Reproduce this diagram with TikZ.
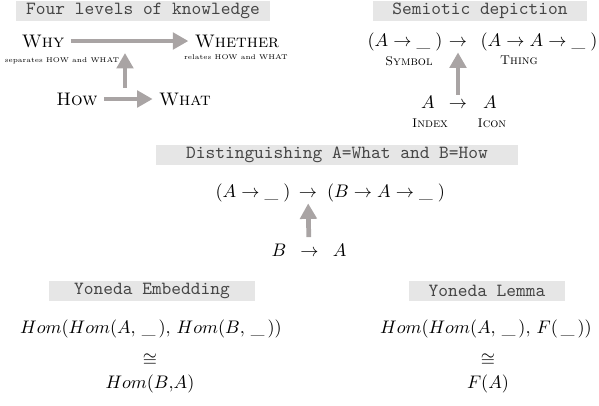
\documentclass[tikz,border=0pt]{standalone}
\usepackage{tikz}
\usetikzlibrary{arrows.meta,calc,positioning}
\definecolor{bannergray}{HTML}{E6E6E6}
\definecolor{bannertext}{HTML}{454545}
\definecolor{arrowgray}{HTML}{A9A4A4}

\begin{document}
\begin{tikzpicture}[x=0.55pt,y=-0.55pt,
  banner/.style={fill=bannergray,text=bannertext,inner sep=0pt,
    minimum height=11.5pt,font=\ttfamily\fontsize{10.2}{12}\selectfont},
  fat/.style={draw=arrowgray,line width=2.6pt,
    -{Triangle[width=9pt,length=8.5pt]}},
  form/.style={anchor=base},
  hom/.style={anchor=base,inner sep=1pt},
  iso/.style={inner sep=0pt},
  sub/.style={font=\fontsize{3.8}{5}\selectfont,inner sep=0pt},
  sclabel/.style={font=\scriptsize\scshape,inner sep=0pt}]
  \useasboundingbox (0,0) rectangle (599,405);

  % Four levels of knowledge
  \node[banner,minimum width=140pt] (knowhead) at (143,11) {Four levels of knowledge};
  \node (why) at (43,41) {\textsc{Why}};
  \node[sub] (whysub) at (62,61) {separates HOW and WHAT};
  \node (whether) at (237,41) {\textsc{Whether}};
  \node[sub] (whethersub) at (236,57) {relates HOW and WHAT};
  \node (how) at (77,99) {\textsc{How}};
  \node (what) at (185,99) {\textsc{What}};
  \coordinate (howwhat) at (125,88);
  \coordinate (whywhether) at (125,53);
  \draw[fat] (why) -- (whether);
  \draw[fat] (how) -- (what);
  \draw[fat] (howwhat) -- (whywhether);

  % Semiotic depiction
  \node[banner,minimum width=118pt] (semhead) at (480,11) {Semiotic depiction};
  \node[form] (symbol) at (405,46) {$(A \to \_\;)$};
  \node[form] (semto) at (458,46) {$\to$};
  \node[form] (thing) at (539,46) {$(A \to A \to \_\;)$};
  \node[sclabel] (symlabel) at (409,61) {Symbol};
  \node[sclabel] (thinglabel) at (519,60) {Thing};
  \node[form] (index) at (428,108) {$A$};
  \node[form] (idxto) at (458,108) {$\to$};
  \node[form] (icon) at (490,108) {$A$};
  \node[sclabel] (idxlabel) at (430,123) {Index};
  \node[sclabel] (iconlabel) at (492,123) {Icon};
  \draw[fat] (idxto) -- (semto);

  % Distinguishing A and B
  \node[banner,minimum width=199pt] (disthead) at (337,155) {Distinguishing A=What and B=How};
  \node[form] (distleft) at (253,197) {$(A \to \_\;)$};
  \node[form] (distto) at (308,197) {$\to$};
  \node[form] (distright) at (386,197) {$(B \to A \to \_\;)$};
  \node[form] (btoa) at (309,256) {$B\enspace\to\enspace A$};
  \draw[fat] (btoa) -- (distto);

  % Yoneda embedding
  \node[banner,minimum width=113pt] (embhead) at (152,291) {Yoneda Embedding};
  \node[hom] (embtop) at (151,333) {$Hom(Hom(A,\,\_\,),\,Hom(B,\,\_\,))$};
  \node[iso] (embiso) at (150,360) {$\cong$};
  \node[hom] (embbot) at (150,388) {$Hom(B{,}A)$};

  % Yoneda lemma
  \node[banner,minimum width=86pt] (lemhead) at (487,291) {Yoneda Lemma};
  \node[hom] (lemtop) at (486,333) {$Hom(Hom(A,\,\_\,),\,F(\,\_\,))$};
  \node[iso] (lemiso) at (488,360) {$\cong$};
  \node[hom] (lembot) at (488,388) {$F(A)$};
\end{tikzpicture}
\end{document}
